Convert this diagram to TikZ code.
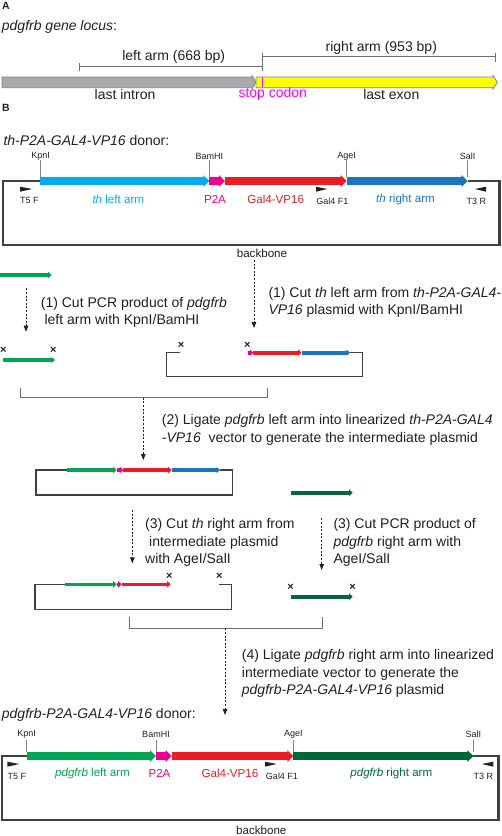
\documentclass[tikz,border=0pt]{standalone}
\usepackage{fontspec}
\setmainfont{Liberation Sans}
\usetikzlibrary{arrows.meta}
\definecolor{ink}{HTML}{231F20}
\definecolor{boxInk}{HTML}{414042}
\definecolor{barGray}{HTML}{6D6E71}
\definecolor{intronGray}{HTML}{A7A9AC}
\definecolor{edgeGray}{HTML}{808285}
\definecolor{exonYellow}{HTML}{FFFF00}
\definecolor{stopPink}{HTML}{FF00FF}
\definecolor{thCyan}{HTML}{00AEEF}
\definecolor{p2aPink}{HTML}{EC008C}
\definecolor{galRed}{HTML}{ED1C24}
\definecolor{thBlue}{HTML}{1C75BC}
\definecolor{pdgGreen}{HTML}{00A651}
\definecolor{pdgDark}{HTML}{006838}

\tikzset{
  bodyText/.style={inner sep=0pt, text=ink, align=left, font=\fontsize{14}{17.5}\selectfont},
  panelTag/.style={inner sep=0pt, text=ink, font=\fontsize{10.5}{12}\selectfont\bfseries},
  siteText/.style={inner sep=0pt, text=ink, font=\fontsize{9}{11}\selectfont},
  armText/.style={inner sep=0pt, font=\fontsize{11.6}{14}\selectfont},
  cutMark/.style={inner sep=0pt, text=ink, font=\fontsize{11}{12}\selectfont\bfseries},
  fatArrow/.style={line width=8.4pt, -{Triangle[length=6pt,width=11.5pt]}},
  thinArrow/.style={line width=3.6pt, -{Triangle[length=3.5pt,width=6.2pt]}},
  stepArrow/.style={draw=ink, line width=0.8pt, dash pattern=on 2pt off 1.6pt,
    -{Triangle[length=6pt,width=4.5pt]}},
  backboneLine/.style={draw=boxInk, line width=2.4pt},
  vectorLine/.style={draw=boxInk, line width=1.3pt},
  bracketLine/.style={draw=barGray, line width=0.9pt},
  siteTick/.style={draw=edgeGray, line width=0.8pt},
  primerTip/.style={fill=ink}
}

\begin{document}
\begin{tikzpicture}[x=1pt,y=-1pt]
\useasboundingbox (0,0) rectangle (502,836);

%% A: gene locus
\node[panelTag, anchor=west] (tagA) at (2,6) {A};
\node[bodyText, anchor=west] (locusTitle) at (1.7,27) {\textit{pdgfrb gene locus}:};

\draw[bracketLine] (79,62.7) -- (79,71) (79,66.7) -- (262.7,66.7) (262.7,52.7) -- (262.7,71);
\draw[bracketLine] (262.7,56.7) -- (495.3,56.7) (495.3,52.7) -- (495.3,61.7);
\node[bodyText] (leftLen) at (173.7,57.3) {left arm (668 bp)};
\node[bodyText] (rightLen) at (381.3,47.7) {right arm (953 bp)};

\draw[fill=exonYellow, draw=edgeGray, line width=0.7pt]
  (256,77) -- (493,77) -- (493,75.5) -- (497.5,82.3) -- (493,89) -- (493,87.7) -- (256,87.7) -- cycle;
\draw[fill=intronGray, draw=edgeGray, line width=0.7pt]
  (2,77) -- (252,77) -- (252,75.5) -- (256,82.3) -- (252,89) -- (252,87.7) -- (2,87.7) -- cycle;
\draw[stopPink, line width=1pt] (262.7,77.4) -- (262.7,87.3);

\node[bodyText] (intron) at (125,94.3) {last intron};
\node[bodyText, text=stopPink] (stop) at (272.8,94.3) {stop codon};
\node[bodyText] (exon) at (391.3,94.3) {last exon};

%% B: th donor
\node[panelTag, anchor=west] (tagB) at (2,108) {B};
\node[bodyText, anchor=west] (thTitle) at (3.3,140.7) {\textit{th-P2A-GAL4-VP16} donor:};

\coordinate (kpnA) at (40,181);
\coordinate (bamA) at (209.3,181);
\coordinate (p2aA) at (225,181);
\coordinate (ageA) at (346.7,181);
\coordinate (salA) at (467.7,181);

\draw[backboneLine] (kpnA) -- (2.7,181) -- (2.7,245) -- (499.3,245) -- (499.3,181) -- (salA);
\draw[fatArrow, thCyan] (kpnA) -- (bamA);
\draw[fatArrow, p2aPink] (bamA) -- (p2aA);
\draw[fatArrow, galRed] (p2aA) -- (ageA);
\draw[fatArrow, thBlue] (ageA) -- (salA);

\node[siteText] (kpnTxtA) at (40.7,156) {KpnI};
\node[siteText] (bamTxtA) at (209.3,156) {BamHI};
\node[siteText] (ageTxtA) at (346.7,156) {AgeI};
\node[siteText] (salTxtA) at (467.7,156) {SalI};
\draw[siteTick] (40.7,160) -- (40.7,176.5) (209.3,160) -- (209.3,176.5)
  (346.7,160) -- (346.7,176.5) (467.7,160) -- (467.7,176.5);

\fill[primerTip] (20,186.7) -- (32.3,189) -- (20,191.7) -- cycle;
\fill[primerTip] (316,186.7) -- (327.3,189) -- (316,191.7) -- cycle;
\fill[primerTip] (486,186.7) -- (475,189) -- (486,191.7) -- cycle;
\node[siteText] (t5A) at (29.3,200) {T5 F};
\node[siteText] (galF1A) at (332.3,201) {Gal4 F1};
\node[siteText] (t3A) at (476.3,201) {T3 R};

\node[armText, text=thCyan] (thLeft) at (118.3,199) {\textit{th} left arm};
\node[armText, text=p2aPink] (p2aTxtA) at (215,199) {P2A};
\node[armText, text=galRed] (galTxtA) at (275.7,199) {Gal4-VP16};
\node[armText, text=thBlue] (thRight) at (405.5,199) {\textit{th} right arm};
\node[armText, text=ink] (backboneA) at (262,253.3) {backbone};

%% step 1
\coordinate (pcrLs) at (0,275);
\coordinate (pcrLe) at (51.7,275);
\draw[thinArrow, pdgGreen] (pcrLs) -- (pcrLe);
\coordinate (step1Ls) at (26,288.3);
\coordinate (step1Le) at (26,331.7);
\draw[stepArrow] (step1Ls) -- (step1Le);
\node[bodyText, anchor=west] (step1L) at (40.7,312.2)
  {(1) Cut PCR product of \textit{pdgfrb}\\\hspace*{3.6pt}left arm with KpnI/BamHI};

\coordinate (step1Rs) at (254,260);
\coordinate (step1Re) at (254,328);
\draw[stepArrow] (step1Rs) -- (step1Re);
\node[bodyText, anchor=west] (step1R) at (268.3,302.2)
  {(1) Cut \textit{th} left arm from \textit{th-P2A-GAL4-}\\\textit{VP16} plasmid with KpnI/BamHI};

\node[cutMark] (cut1a) at (3.3,350.5) {×};
\node[cutMark] (cut1b) at (53.3,350.5) {×};
\coordinate (leftArmS) at (2.7,360);
\coordinate (leftArmE) at (55,360);
\draw[thinArrow, pdgGreen] (leftArmS) -- (leftArmE);

\coordinate (vec1a) at (180,352.7);
\coordinate (vec1b) at (247.7,352.7);
\coordinate (vec1c) at (253.3,352.7);
\coordinate (vec1d) at (301.7,352.7);
\coordinate (vec1e) at (350,352.7);
\draw[vectorLine] (vec1a) -- (166.7,352.7) -- (166.7,376.7) -- (362.7,376.7) -- (362.7,352.7) -- (vec1e);
\draw[thinArrow, p2aPink] (vec1b) -- (vec1c);
\draw[thinArrow, galRed] (vec1c) -- (vec1d);
\draw[thinArrow, thBlue] (vec1d) -- (vec1e);
\node[cutMark] (cut1c) at (181,345.5) {×};
\node[cutMark] (cut1d) at (247.3,345.5) {×};

%% step 2
\draw[bracketLine] (20.7,387.7) -- (20.7,397.7) -- (267.3,397.7) -- (267.3,387.7);
\coordinate (join1) at (143.3,397.7);
\coordinate (join1e) at (143.3,460);
\draw[stepArrow] (join1) -- (join1e);
\node[bodyText, anchor=west] (step2) at (161.7,430)
  {(2) Ligate \textit{pdgfrb} left arm into linearized \textit{th-P2A-GAL4}\\\textit{-VP16}\ \ vector to generate the intermediate plasmid};

\coordinate (midA) at (66.7,470);
\coordinate (midB) at (116.7,470);
\coordinate (midC) at (123.3,470);
\coordinate (midD) at (171.7,470);
\coordinate (midE) at (220,470);
\draw[vectorLine] (midA) -- (36,470) -- (36,495) -- (232.3,495) -- (232.3,470) -- (midE);
\draw[thinArrow, pdgGreen] (midA) -- (midB);
\draw[thinArrow, p2aPink] (midB) -- (midC);
\draw[thinArrow, galRed] (midC) -- (midD);
\draw[thinArrow, thBlue] (midD) -- (midE);

\coordinate (pcrRs) at (291,492.7);
\coordinate (pcrRe) at (352.7,492.7);
\draw[thinArrow, pdgDark] (pcrRs) -- (pcrRe);

%% step 3
\coordinate (step3Ls) at (132.3,510);
\coordinate (step3Le) at (132.3,563.3);
\draw[stepArrow] (step3Ls) -- (step3Le);
\node[bodyText, anchor=west] (step3L) at (145,542.5)
  {(3) Cut \textit{th} right arm from\\\hspace*{4pt}intermediate plasmid\\with AgeI/SalI};

\coordinate (step3Rs) at (321.7,518.3);
\coordinate (step3Re) at (321.7,570);
\draw[stepArrow] (step3Rs) -- (step3Re);
\node[bodyText, anchor=west] (step3R) at (333.3,542.5)
  {(3) Cut PCR product of\\\textit{pdgfrb} right arm with\\AgeI/SalI};

\coordinate (vec3a) at (65,584.3);
\coordinate (vec3b) at (116.7,584.3);
\coordinate (vec3c) at (121.7,584.3);
\coordinate (vec3d) at (170.7,584.3);
\coordinate (vec3e) at (219.3,584.3);
\draw[vectorLine] (vec3a) -- (35,584.3) -- (35,609.3) -- (231.7,609.3) -- (231.7,584.3) -- (vec3e);
\draw[thinArrow, pdgGreen] (vec3a) -- (vec3b);
\draw[thinArrow, p2aPink] (vec3b) -- (vec3c);
\draw[thinArrow, galRed] (vec3c) -- (vec3d);
\node[cutMark] (cut3a) at (169.3,576) {×};
\node[cutMark] (cut3b) at (219.3,576) {×};

\node[cutMark] (cut3c) at (290.7,587.7) {×};
\node[cutMark] (cut3d) at (352.7,587.7) {×};
\coordinate (rightArmS) at (290.7,596.7);
\coordinate (rightArmE) at (352.7,596.7);
\draw[thinArrow, pdgDark] (rightArmS) -- (rightArmE);

%% step 4
\draw[bracketLine] (129,617) -- (129,628.3) -- (322.3,628.3) -- (322.3,617);
\coordinate (join2) at (225,628.3);
\coordinate (join2e) at (225,715);
\draw[stepArrow] (join2) -- (join2e);
\node[bodyText, anchor=west] (step4) at (241.7,673.7)
  {(4) Ligate \textit{pdgfrb} right arm into linearized\\intermediate vector to generate the\\\textit{pdgfrb-P2A-GAL4-VP16} plasmid};

%% pdgfrb donor
\node[bodyText, anchor=west] (pdgTitle) at (1.7,715) {\textit{pdgfrb-P2A-GAL4-VP16} donor:};

\coordinate (kpnB) at (26.7,756);
\coordinate (bamB) at (156,756);
\coordinate (p2aB) at (171.7,756);
\coordinate (ageB) at (293.3,756);
\coordinate (salB) at (473.3,756);

\draw[backboneLine] (kpnB) -- (1.7,756) -- (1.7,820) -- (498.3,820) -- (498.3,756) -- (salB);
\draw[fatArrow, pdgGreen] (kpnB) -- (bamB);
\draw[fatArrow, p2aPink] (bamB) -- (p2aB);
\draw[fatArrow, galRed] (p2aB) -- (ageB);
\draw[fatArrow, pdgDark] (ageB) -- (salB);

\node[siteText] (kpnTxtB) at (26.7,734) {KpnI};
\node[siteText] (bamTxtB) at (156,734) {BamHI};
\node[siteText] (ageTxtB) at (293.3,734) {AgeI};
\node[siteText] (salTxtB) at (473.3,734) {SalI};
\draw[siteTick] (26.7,740) -- (26.7,751.5) (156,740) -- (156,751.5)
  (293.3,740) -- (293.3,751.5) (473.3,740) -- (473.3,751.5);

\fill[primerTip] (7.3,761.7) -- (19.3,764) -- (7.3,766.7) -- cycle;
\fill[primerTip] (265,761.7) -- (276.7,764) -- (265,766.7) -- cycle;
\fill[primerTip] (493.3,761.7) -- (481.7,764) -- (493.3,766.7) -- cycle;
\node[siteText] (t5B) at (17,776.7) {T5 F};
\node[siteText] (galF1B) at (282,776.7) {Gal4 F1};
\node[siteText] (t3B) at (483.3,776.7) {T3 R};

\node[armText, text=pdgGreen] (pdgLeft) at (92.5,773.3) {\textit{pdgfrb} left arm};
\node[armText, text=p2aPink] (p2aTxtB) at (159.5,773.3) {P2A};
\node[armText, text=galRed] (galTxtB) at (230,773.3) {Gal4-VP16};
\node[armText, text=pdgDark] (pdgRight) at (391.3,773.3) {\textit{pdgfrb} right arm};
\node[armText, text=ink] (backboneB) at (261.3,830) {backbone};
\end{tikzpicture}
\end{document}
